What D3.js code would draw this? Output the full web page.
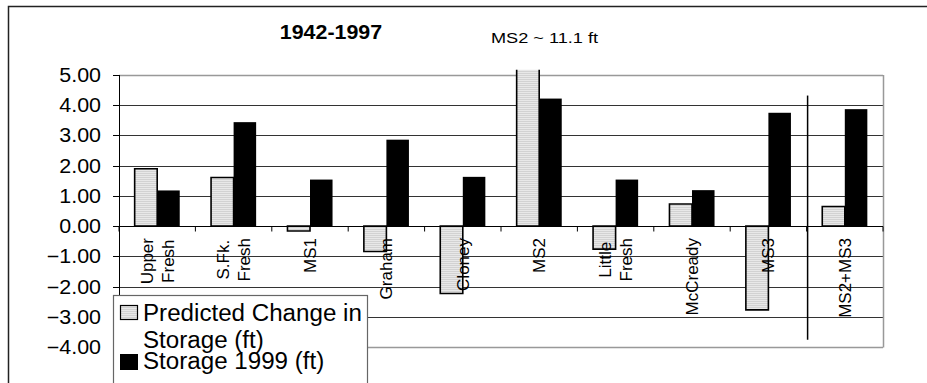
<!DOCTYPE html>
<html>
<head>
<meta charset="utf-8">
<script src="https://cdn.jsdelivr.net/npm/d3@7"></script>
<style>
  body { margin: 0; background: #fff; }
  svg { display: block; font-family: "Liberation Sans", Arial, sans-serif; }
</style>
</head>
<body>
<div id="chart"></div>
<script>
// data
const categories = ["Upper Fresh", "S.Fk. Fresh", "MS1", "Graham", "Cloney", "MS2", "Little Fresh", "McCready", "MS3", "MS2+MS3"];
const category_lines = [["Upper", "Fresh"], ["S.Fk.", "Fresh"], ["MS1"], ["Graham"], ["Cloney"], ["MS2"], ["Little", "Fresh"], ["McCready"], ["MS3"], ["MS2+MS3"]];
const predicted_change = [1.90, 1.61, -0.16, -0.84, -2.23, 11.1, -0.76, 0.73, -2.77, 0.65];
const storage_1999 = [1.18, 3.44, 1.54, 2.86, 1.63, 4.22, 1.54, 1.19, 3.75, 3.87];
const y_ticks = [5, 4, 3, 2, 1, 0, -1, -2, -3, -4];
const series_names = ["Predicted Change in Storage (ft)", "Storage 1999 (ft)"];
const legend_lines = [["Predicted Change in", "Storage (ft)"], ["Storage 1999 (ft)"]];
const title = "1942-1997";
const note = "MS2 ~ 11.1 ft";
const separator = { after: "MS3", top: 4.32, bottom: -3.76 };

const width = 927, height = 383;
const plot = { left: 119, right: 883, top: 75, bottom: 347 };

const svg = d3.select("#chart").append("svg")
  .attr("width", width).attr("height", height);

// the source picture is a bit wider than it is tall, stretch text to match
function stretch(sel, k) {
  sel.each(function () {
    const len = this.getComputedTextLength();
    d3.select(this).attr("textLength", len * k).attr("lengthAdjust", "spacingAndGlyphs");
  });
}

const defs = svg.append("defs");
const pat = defs.append("pattern").attr("id", "stripes")
  .attr("patternUnits", "userSpaceOnUse").attr("width", 4).attr("height", 2);
pat.append("rect").attr("width", 4).attr("height", 2).attr("fill", "#e8e8e8");
pat.append("rect").attr("y", 1).attr("width", 4).attr("height", 1).attr("fill", "#d2d2d2");

// outer frame
svg.append("rect")
  .attr("x", 8.5).attr("y", 6.5).attr("width", 1000).attr("height", 1000)
  .attr("fill", "none").attr("stroke", "#222").attr("stroke-width", 1.5);

const y = d3.scaleLinear().domain([5, -4]).range([plot.top, plot.bottom]);
const x0 = d3.scaleBand().domain(categories).range([plot.left, plot.right])
  .paddingInner(0.41).paddingOuter(0.205);
const x1 = d3.scaleBand().domain([0, 1]).range([0, x0.bandwidth()]);
const step = x0.step();

// gridlines
svg.append("g").selectAll("line").data(y_ticks).join("line")
  .attr("x1", plot.left).attr("x2", plot.right)
  .attr("y1", (d) => Math.round(y(d)) + 0.5).attr("y2", (d) => Math.round(y(d)) + 0.5)
  .attr("stroke", (d) => (d === 5 || d === -4 ? "#999" : "#333"))
  .attr("stroke-width", (d) => (d === 5 || d === -4 ? 1.5 : 1));

// plot right border
svg.append("line")
  .attr("x1", plot.right + 0.5).attr("x2", plot.right + 0.5)
  .attr("y1", plot.top).attr("y2", plot.bottom + 0.5)
  .attr("stroke", "#999").attr("stroke-width", 1.5);

// bars
const clip_top = 5.17;
const groups = svg.append("g").selectAll("g").data(categories).join("g")
  .attr("transform", (d) => `translate(${x0(d)},0)`);

const bw = x1.bandwidth();
groups.append("rect")
  .attr("x", x1(0)).attr("width", bw)
  .attr("y", (d, i) => y(Math.max(0, Math.min(predicted_change[i], clip_top))))
  .attr("height", (d, i) => Math.abs(y(Math.min(predicted_change[i], clip_top)) - y(0)))
  .attr("fill", "url(#stripes)");

// outline, left open at the top when the bar runs off the plot
groups.append("path")
  .attr("d", (d, i) => {
    const v = predicted_change[i];
    const y0 = y(0), yv = y(Math.min(v, clip_top));
    const xa = x1(0), xb = x1(0) + bw;
    if (v > clip_top) return `M${xa},${yv}V${y0}H${xb}V${yv}`;
    return `M${xa},${y0}V${yv}H${xb}V${y0}Z`;
  })
  .attr("fill", "none").attr("stroke", "#000").attr("stroke-width", 1.6);

groups.append("rect")
  .attr("x", x1(1)).attr("width", bw)
  .attr("y", (d, i) => y(Math.max(0, storage_1999[i])))
  .attr("height", (d, i) => Math.abs(y(storage_1999[i]) - y(0)))
  .attr("fill", "#000");

// y axis
const y_axis = svg.append("g").attr("transform", `translate(${plot.left},0)`);
y_axis.append("line").attr("x1", 0.5).attr("x2", 0.5)
  .attr("y1", plot.top).attr("y2", plot.bottom).attr("stroke", "#000");
y_axis.selectAll(".tick").data(y_ticks).join("line")
  .attr("x1", -6).attr("x2", 0)
  .attr("y1", (d) => Math.round(y(d)) + 0.5).attr("y2", (d) => Math.round(y(d)) + 0.5)
  .attr("stroke", "#000");
y_axis.selectAll("text").data(y_ticks).join("text")
  .attr("x", -18).attr("y", (d) => y(d) + 7)
  .attr("text-anchor", "end").attr("font-size", 19.5).attr("fill", "#000")
  .text((d) => d3.format(".2f")(d))
  .call(stretch, 1.1);

// category axis at zero
const zero = Math.round(y(0)) + 0.5;
svg.append("line").attr("x1", plot.left).attr("x2", plot.right)
  .attr("y1", zero).attr("y2", zero).attr("stroke", "#000").attr("stroke-width", 1.2);
svg.append("g").selectAll("line").data(d3.range(categories.length + 1)).join("line")
  .attr("x1", (i) => plot.left + i * step).attr("x2", (i) => plot.left + i * step)
  .attr("y1", zero).attr("y2", zero + 5).attr("stroke", "#000");

// category labels, rotated
const label_end = 238;
categories.forEach((c, i) => {
  const lines = category_lines[i];
  const cx = x0(c) + x0.bandwidth() / 2;
  const g = svg.append("g");
  const texts = g.selectAll("text").data(lines).join("text")
    .attr("font-size", 17).attr("fill", "#000")
    .text((d) => d);
  let max_len = 0;
  texts.each(function () { max_len = Math.max(max_len, this.getComputedTextLength()); });
  const n = lines.length;
  texts.attr("text-anchor", "middle")
    .attr("transform", (d, j) => {
      const bx = cx + 6 + (j - (n - 1) / 2) * 21;
      return `translate(${bx},${label_end + max_len / 2}) rotate(-90)`;
    });
});

// separator between MS3 and MS2+MS3
const sep_x = plot.left + (categories.indexOf(separator.after) + 1) * step + 1;
svg.append("line")
  .attr("x1", sep_x).attr("x2", sep_x)
  .attr("y1", y(separator.top)).attr("y2", y(separator.bottom))
  .attr("stroke", "#000").attr("stroke-width", 1.5);

// titles
svg.append("text").attr("x", 331).attr("y", 39)
  .attr("text-anchor", "middle").attr("font-size", 20).attr("font-weight", "bold")
  .text(title).call(stretch, 1.07);
svg.append("text").attr("x", 491).attr("y", 43)
  .attr("font-size", 15.5)
  .text(note).call(stretch, 1.17);

// legend
const legend = svg.append("g");
legend.append("rect")
  .attr("x", 113.5).attr("y", 295.5).attr("width", 254).attr("height", 120)
  .attr("fill", "#fff").attr("stroke", "#666").attr("stroke-width", 1.2);
legend.append("rect").attr("x", 120.5).attr("y", 305.5).attr("width", 17).attr("height", 14)
  .attr("fill", "url(#stripes)").attr("stroke", "#000").attr("stroke-width", 1.2);
legend.append("rect").attr("x", 120).attr("y", 354).attr("width", 18).attr("height", 16)
  .attr("fill", "#000");
const legend_y = [[321, 348], [369]];
legend_lines.forEach((lines, i) => {
  lines.forEach((t, j) => {
    legend.append("text").attr("x", 143).attr("y", legend_y[i][j])
      .attr("font-size", 23).attr("fill", "#000")
      .text(t).call(stretch, 1.05);
  });
});
</script>
</body>
</html>
